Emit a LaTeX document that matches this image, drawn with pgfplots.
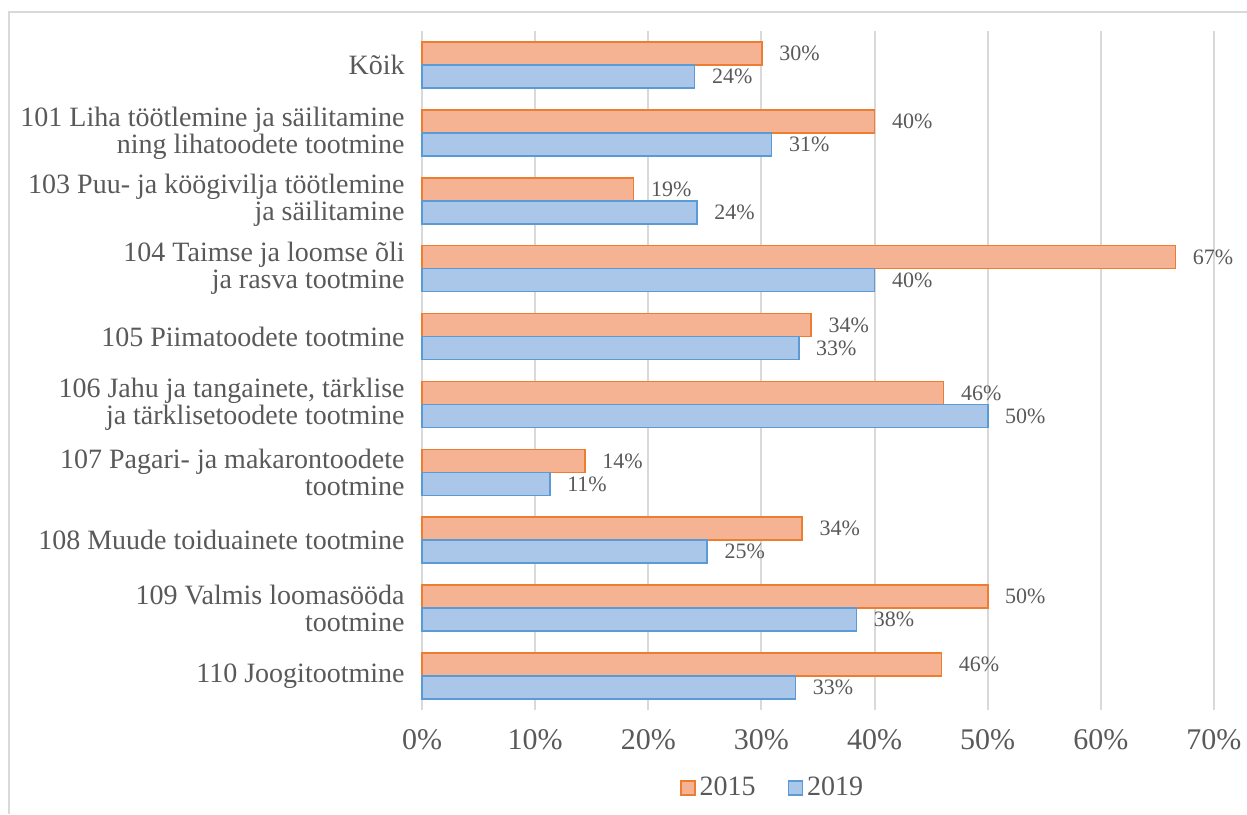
\documentclass[border=0pt]{standalone}
\usepackage{fontspec}
\setmainfont{Liberation Serif}
\usepackage{pgfplots}
\pgfplotsset{compat=1.18}

\definecolor{txt}{HTML}{595959}
\definecolor{gridc}{HTML}{D9D9D9}
\definecolor{oline}{HTML}{ED7D31}
\definecolor{ofill}{HTML}{F6B393}
\definecolor{bline}{HTML}{5B9BD5}
\definecolor{bfill}{HTML}{AAC6E8}

\begin{document}
\begin{tikzpicture}
\useasboundingbox (-211pt,-52pt) rectangle (412.5pt,355pt);
\draw[gridc, line width=1pt] (-206.5pt,-52pt) -- (-206.5pt,349pt) -- (412.5pt,349pt);
\begin{axis}[
    at={(0pt,0pt)}, anchor=south west,
    scale only axis,
    width=396pt, height=339.5pt,
    xmin=0, xmax=70,
    ymin=-0.5, ymax=9.5,
    xtick={0,10,...,70},
    xticklabel={\pgfmathprintnumber{\tick}\%},
    /pgf/number format/assume math mode=true,
    ytick={0,...,9},
    yticklabels={
        {110 Joogitootmine},
        {109 Valmis loomasööda\\tootmine},
        {108 Muude toiduainete tootmine},
        {107 Pagari- ja makarontoodete\\tootmine},
        {106 Jahu ja tangainete, tärklise\\ja tärklisetoodete tootmine},
        {105 Piimatoodete tootmine},
        {104 Taimse ja loomse õli\\ja rasva tootmine},
        {103 Puu- ja köögivilja töötlemine\\ja säilitamine},
        {101 Liha töötlemine ja säilitamine\\ning lihatoodete tootmine},
        {Kõik}},
    yticklabel style={align=right, font=\fontsize{14}{13.5}\selectfont, text=txt, inner sep=0pt, xshift=-8.5pt},
    xticklabel style={font=\fontsize{15}{15}\selectfont, text=txt, yshift=-6pt},
    major tick length=0pt,
    xmajorgrids,
    grid style={gridc, line width=1pt},
    axis line style={draw=none},
    xbar,
    bar width=11.5pt,
    nodes near coords={\pgfmathprintnumber[fixed,precision=0]{\pgfplotspointmeta}\%},
    nodes near coords style={font=\fontsize{11}{11}\selectfont, text=txt, anchor=west, xshift=5pt},
    point meta=x,
    legend columns=2,
    legend style={at={(0.444,-0.115)}, anchor=center, draw=none, fill=none,
        font=\fontsize{14}{14}\selectfont, text=txt,
        /tikz/every even column/.append style={column sep=14pt}},
    legend image code/.code={\draw[#1, line width=0.8pt] (0pt,-3.5pt) rectangle (7pt,3.5pt);},
    clip=false,
]
\draw[gridc, line width=1pt] (axis cs:0,-0.5) -- (axis cs:0,9.5);
\addplot[bar shift=5.75pt, draw=oline, line width=0.8pt, fill=ofill]
    coordinates {(45.9,0) (50.0,1) (33.6,2) (14.4,3) (46.1,4) (34.4,5) (66.6,6) (18.7,7) (40.0,8) (30.05,9)};
\addplot[bar shift=-5.75pt, draw=bline, line width=0.8pt, fill=bfill]
    coordinates {(33.0,0) (38.4,1) (25.2,2) (11.3,3) (50.0,4) (33.3,5) (40.0,6) (24.3,7) (30.9,8) (24.1,9)};
\legend{2015, 2019}
\end{axis}
\end{tikzpicture}
\end{document}
